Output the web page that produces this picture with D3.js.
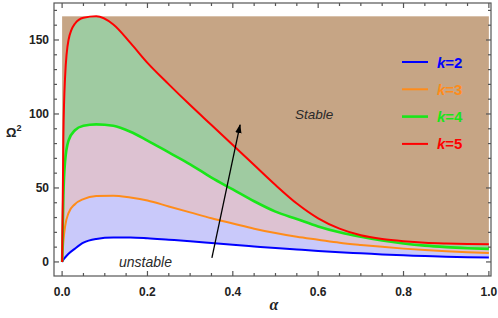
<!DOCTYPE html>
<html>
<head>
<meta charset="utf-8">
<script src="https://cdn.jsdelivr.net/npm/d3@7"></script>
<style>
  body { margin: 0; background: #fff; }
  svg { display: block; font-family: "Liberation Sans", Arial, sans-serif; }
</style>
</head>
<body>
<div id="chart"></div>
<script>
// alpha grid shared by all curves
var alphas = [0, 0.003, 0.007, 0.015, 0.03, 0.05, 0.08, 0.12, 0.16, 0.2, 0.25, 0.3, 0.35, 0.4,
  0.45, 0.5, 0.55, 0.6, 0.65, 0.7, 0.75, 0.8, 0.85, 0.9, 0.95, 1.0];

var k2 = [0, 1.5, 3, 5.5, 9, 13, 15.5, 16.5, 16.5, 16, 15, 14, 12.8, 11.6,
  10.5, 9.4, 8.4, 7.4, 6.5, 5.8, 5.1, 4.5, 4, 3.5, 3.2, 3];
var k3 = [0, 14, 24, 33, 39, 42.5, 44.5, 44.8, 43.5, 41.5, 37.5, 33.5, 29.5, 26,
  22.5, 19.5, 17, 15, 13, 11.5, 10.2, 9, 8, 7.2, 6.5, 6];
var k4 = [0, 45, 68, 82, 89, 92, 93, 92, 88, 82, 74, 66, 57, 49,
  41, 34, 29, 24, 20, 17, 14.5, 12.5, 11, 10, 9.3, 8.8];
var k5 = [0, 85, 125, 150, 161, 165, 166, 160.5, 148, 134.5, 120, 106, 92.5, 79,
  65.5, 52, 39.5, 29.5, 22.5, 18, 15.5, 14, 13, 12.5, 12.2, 12];

var seriesNames = ["k=2", "k=3", "k=4", "k=5"];
var seriesValues = [k2, k3, k4, k5];
var lineColors = ["#0000ff", "#ff8c1a", "#19e619", "#ff0000"];
// fill under each curve (drawn top to bottom)
var fillColors = ["#ffffff", "#c9c9fa", "#ddc2d2", "#9fcba1"];
var stableTop = 166;

var xTicks = [0, 0.2, 0.4, 0.6, 0.8, 1.0];
var yTicks = [0, 50, 100, 150];

// arrow from unstable to stable region (data coords)
var arrowFrom = [0.351, 2.7];
var arrowTo = [0.417, 92.6];

var width = 498, height = 318;

var svg = d3.select("#chart").append("svg")
  .attr("width", width)
  .attr("height", height);

var defs = svg.append("defs");
defs.append("marker")
  .attr("id", "arrowhead")
  .attr("viewBox", "0 0 10 10")
  .attr("refX", 9).attr("refY", 5)
  .attr("markerWidth", 7).attr("markerHeight", 7)
  .attr("orient", "auto")
  .append("path")
  .attr("d", "M0,1.5 L10,5 L0,8.5 Z")
  .attr("fill", "#000");

var x = d3.scaleLinear().domain([-0.019, 1.005]).range([54, 491]);
var y = d3.scaleLinear().domain([-9.5, 175]).range([276, 3]);

var pts = function (vals) {
  return alphas.map((a, i) => [a, vals[i]]);
};

// Stable (brown) background
svg.append("rect")
  .attr("x", x(0))
  .attr("y", y(stableTop))
  .attr("width", x(1) - x(0))
  .attr("height", y(0) - y(stableTop))
  .attr("fill", "#c6a585");

var area = d3.area()
  .x((d) => x(d[0]))
  .y0(y(0))
  .y1((d) => y(d[1]))
  .curve(d3.curveMonotoneX);

// draw fills from top curve down
for (var i = 3; i >= 0; i--) {
  svg.append("path")
    .attr("d", area(pts(seriesValues[i])))
    .attr("fill", fillColors[i]);
}

var line = d3.line()
  .x((d) => x(d[0]))
  .y((d) => y(d[1]))
  .curve(d3.curveMonotoneX);

seriesValues.forEach(function (vals, i) {
  svg.append("path")
    .attr("d", line(pts(vals)))
    .attr("fill", "none")
    .attr("stroke", lineColors[i])
    .attr("stroke-width", i === 2 ? 2.6 : 2);
});

// frame and ticks (ticks point inward on all four sides)
var x0 = x.range()[0], x1 = x.range()[1], y0 = y.range()[0], y1 = y.range()[1];
var frame = svg.append("g").attr("stroke", "#555").attr("stroke-width", 1.2);
frame.append("rect")
  .attr("x", x0).attr("y", y1)
  .attr("width", x1 - x0).attr("height", y0 - y1)
  .attr("fill", "none");

var xMinor = d3.range(0, 1.0001, 0.05);
xMinor.forEach(function (v) {
  var major = Math.abs(Math.round(v / 0.2) * 0.2 - v) < 1e-6;
  var len = major ? 5 : 3;
  frame.append("line").attr("x1", x(v)).attr("x2", x(v)).attr("y1", y0).attr("y2", y0 - len);
  frame.append("line").attr("x1", x(v)).attr("x2", x(v)).attr("y1", y1).attr("y2", y1 + len);
});
var yMinor = d3.range(0, 171, 10);
yMinor.forEach(function (v) {
  var major = v % 50 === 0;
  var len = major ? 5 : 3;
  frame.append("line").attr("y1", y(v)).attr("y2", y(v)).attr("x1", x0).attr("x2", x0 + len);
  frame.append("line").attr("y1", y(v)).attr("y2", y(v)).attr("x1", x1).attr("x2", x1 - len);
});

// tick labels
svg.append("g").selectAll("text")
  .data(xTicks)
  .enter().append("text")
  .attr("x", (d) => x(d))
  .attr("y", 296)
  .attr("text-anchor", "middle")
  .attr("font-size", 12)
  .attr("font-weight", "bold")
  .attr("fill", "#222")
  .text((d) => d.toFixed(1));

svg.append("g").selectAll("text")
  .data(yTicks)
  .enter().append("text")
  .attr("x", 49)
  .attr("y", (d) => y(d) + 4.5)
  .attr("text-anchor", "end")
  .attr("font-size", 12)
  .attr("font-weight", "bold")
  .attr("fill", "#222")
  .text((d) => d);

// axis titles
var yTitle = svg.append("text")
  .attr("x", 6).attr("y", 137)
  .attr("font-size", 13)
  .attr("font-weight", "bold")
  .attr("fill", "#222");
yTitle.append("tspan").text("Ω");
yTitle.append("tspan").attr("font-size", 9).attr("dy", -6).text("2");

svg.append("text")
  .attr("x", 274).attr("y", 310)
  .attr("text-anchor", "middle")
  .attr("font-size", 16)
  .attr("font-style", "italic")
  .attr("font-weight", "bold")
  .attr("fill", "#222")
  .attr("font-family", "'Liberation Serif', serif")
  .text("α");

// region labels
svg.append("text")
  .attr("x", 295).attr("y", 119)
  .attr("font-size", 13.5)
  .attr("font-style", "italic")
  .attr("fill", "#2a2a2a")
  .text("Stable");

svg.append("text")
  .attr("x", 119).attr("y", 267)
  .attr("font-size", 14)
  .attr("font-style", "italic")
  .attr("fill", "#2a2a2a")
  .text("unstable");

svg.append("line")
  .attr("x1", x(arrowFrom[0])).attr("y1", y(arrowFrom[1]))
  .attr("x2", x(arrowTo[0])).attr("y2", y(arrowTo[1]))
  .attr("stroke", "#000")
  .attr("stroke-width", 1.3)
  .attr("marker-end", "url(#arrowhead)");

// legend
var legend = svg.selectAll(".legend")
  .data(seriesNames)
  .enter().append("g")
  .attr("class", "legend")
  .attr("transform", (d, i) => "translate(402," + (62 + i * 27.3) + ")");

legend.append("line")
  .attr("x1", 0).attr("x2", 26)
  .attr("y1", 0).attr("y2", 0)
  .attr("stroke", (d, i) => lineColors[i])
  .attr("stroke-width", (d, i) => i === 2 ? 2.6 : 2);

var lt = legend.append("text")
  .attr("x", 35).attr("y", 5.5)
  .attr("font-size", 15)
  .attr("font-weight", "bold")
  .attr("fill", (d, i) => lineColors[i]);
lt.append("tspan").attr("font-style", "italic").text("k");
lt.append("tspan").text((d) => d.slice(1));
</script>
</body>
</html>
